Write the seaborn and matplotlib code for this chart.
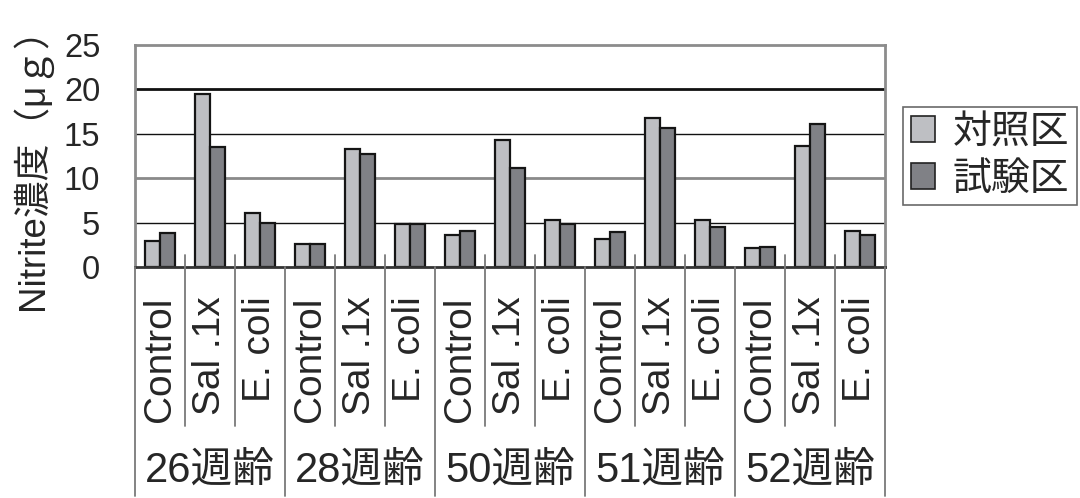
import numpy as np
import pandas as pd
import matplotlib
matplotlib.use("Agg")
import matplotlib.pyplot as plt
import matplotlib.transforms as mtransforms
from matplotlib.patches import Patch
import seaborn as sns

# ---- data ----
ages = ["26週齢", "28週齢", "50週齢", "51週齢", "52週齢"]
treatments = ["Control", "Sal .1x", "E. coli"]
series_names = ["対照区", "試験区"]
control_vals = [2.9, 19.5, 6.1, 2.6, 13.3, 4.8, 3.65, 14.25, 5.3, 3.15, 16.8, 5.3, 2.15, 13.6, 4.0]
test_vals = [3.8, 13.5, 5.0, 2.6, 12.7, 4.85, 4.0, 11.2, 4.85, 3.9, 15.6, 4.5, 2.25, 16.1, 3.65]
y_ticks = [0, 5, 10, 15, 20, 25]

cats = [f"{a}|{t}" for a in ages for t in treatments]
rows = []
for c, v1, v2 in zip(cats, control_vals, test_vals):
    rows.append({"cat": c, "series": series_names[0], "value": v1})
    rows.append({"cat": c, "series": series_names[1], "value": v2})
df = pd.DataFrame(rows)

sns.set_theme(style="white")
plt.rcParams["font.family"] = ["Liberation Sans", "Noto Sans CJK JP"]

colors = ["#BEBFC3", "#808186"]

fig = plt.figure(figsize=(10.8, 4.98), dpi=100)
ax = fig.add_axes([135 / 1080, 1 - 267 / 498, 750 / 1080, 222 / 498])

sns.barplot(data=df, x="cat", y="value", hue="series", order=cats,
            hue_order=series_names, palette=colors, width=0.6,
            edgecolor="#151515", linewidth=1.6, ax=ax, legend=False,
            errorbar=None, saturation=1)

ax.set_xlim(-0.5, len(cats) - 0.5)
ax.set_ylim(0, 25)
ax.set_yticks(y_ticks)
ax.set_yticklabels([str(v) for v in y_ticks], fontsize=23.5)
ax.set_xticks(range(len(cats)))
ax.set_xticklabels(treatments * len(ages), rotation=90, fontsize=28)
ax.tick_params(axis="x", length=0, pad=21)
ax.tick_params(axis="y", length=0, pad=25)
ax.set_xlabel("")
ax.set_ylabel("")

# gridlines
grid_styles = {5: ("#111111", 1.0), 10: ("#8a8a8a", 2.0), 15: ("#111111", 1.0), 20: ("#111111", 2.0)}
for yv, (c, lw) in grid_styles.items():
    ax.axhline(yv, color=c, lw=lw, zorder=0.5)

for s in ["left", "top", "right"]:
    ax.spines[s].set_color("#8c8c8c")
    ax.spines[s].set_linewidth(2)
ax.spines["bottom"].set_color("#333333")
ax.spines["bottom"].set_linewidth(2)

# category separators
trans = mtransforms.blended_transform_factory(ax.transData, ax.transAxes)
for i in range(len(cats) + 1):
    xb = i - 0.5
    if i % len(treatments) == 0:
        y0, y1 = 0.0, -1.03
    else:
        y0, y1 = 0.054, -0.716
    ax.plot([xb, xb], [y0, y1], color="#7a7a7a", lw=1.3, transform=trans,
            clip_on=False, zorder=3)

# group labels
for g, a in enumerate(ages):
    ax.text(g * len(treatments) + (len(treatments) - 1) / 2, -0.923, a,
            transform=trans, ha="center", va="center", fontsize=30)

# y label
fig.text(32 / 1080, 1 - 160 / 498, "Nitrite濃度（μｇ）", rotation=90,
         ha="center", va="center", fontsize=26.5)

# legend
handles = [Patch(facecolor=colors[i], edgecolor="#222222", linewidth=1.2)
           for i in range(len(series_names))]
leg = ax.legend(handles, series_names, loc="upper left",
                bbox_to_anchor=(903 / 1080, 1 - 107 / 498),
                bbox_transform=fig.transFigure, frameon=True, fancybox=False,
                edgecolor="#444444", fontsize=28, handlelength=0.62,
                handleheight=0.62, handletextpad=0.45, borderpad=0.2,
                labelspacing=0.28, borderaxespad=0)
leg.get_frame().set_linewidth(1.2)

fig.savefig("out.png", dpi=100)
